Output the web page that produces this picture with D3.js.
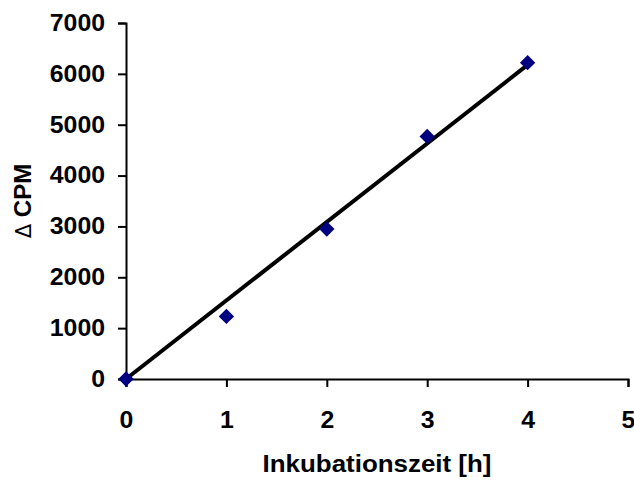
<!DOCTYPE html>
<html>
<head>
<meta charset="utf-8">
<script src="https://cdn.jsdelivr.net/npm/d3@7"></script>
<style>
  body { margin: 0; background: #fff; }
  text { font-family: "Liberation Sans", Arial, sans-serif; font-weight: bold; fill: #000; }
</style>
</head>
<body>
<div id="chart"></div>
<script>
// Data
var hours = [0, 1, 2, 3, 4];
var deltaCpm = [0, 1230, 2950, 4770, 6220];
var xTicks = [0, 1, 2, 3, 4, 5];
var yTicks = [0, 1000, 2000, 3000, 4000, 5000, 6000, 7000];

var basewidth = 634,
    baseheight = 480,
    margin = { top: 23, right: 6, bottom: 101, left: 126 },
    width = basewidth - margin.left - margin.right,
    height = baseheight - margin.top - margin.bottom,
    stretch = 1.08;   // the original text is a bit wider than Arial

var xScale = d3.scaleLinear().domain([0, 5]).range([0, width]),
    yScale = d3.scaleLinear().domain([0, 7000]).range([height, 0]);

var svg = d3.select("#chart").append("svg")
    .attr("width", basewidth)
    .attr("height", baseheight)
    .append("g")
    .attr("transform", "translate(" + margin.left + "," + margin.top + ")");

// y axis
var yaxis = svg.append("g")
    .call(d3.axisLeft(yScale).tickValues(yTicks).tickSize(8).tickPadding(13).tickFormat(d3.format("d")));

// x axis
var xaxis = svg.append("g")
    .attr("transform", "translate(0," + height + ")")
    .call(d3.axisBottom(xScale).tickValues(xTicks).tickSize(8).tickPadding(25).tickFormat(d3.format("d")));

[yaxis, xaxis].forEach(function (a) {
    a.select(".domain").attr("stroke", "#000").attr("stroke-width", 2);
    a.selectAll(".tick line").attr("stroke", "#000").attr("stroke-width", 2);
    a.selectAll("text").style("font-size", "23px").attr("font-family", null);
});

// stretch tick labels horizontally around their anchor
yaxis.selectAll(".tick text")
    .attr("x", 0)
    .attr("transform", "translate(-21,0) scale(" + stretch + ",1)");
xaxis.selectAll(".tick text")
    .attr("transform", "scale(" + stretch + ",1)");

// Linear trendline through origin (least squares)
var sxy = d3.sum(hours, function (x, i) { return x * deltaCpm[i]; }),
    sxx = d3.sum(hours, function (x) { return x * x; }),
    slope = sxy / sxx;
var xExt = d3.extent(hours);

svg.append("line")
    .attr("x1", xScale(xExt[0]))
    .attr("y1", yScale(slope * xExt[0]))
    .attr("x2", xScale(xExt[1]))
    .attr("y2", yScale(slope * xExt[1]))
    .attr("stroke", "#000")
    .attr("stroke-width", 4);

// data points (diamonds)
var diamond = d3.symbol().type(d3.symbolDiamond2).size(150);
svg.selectAll(".dot")
    .data(hours)
    .enter().append("path")
    .attr("class", "dot")
    .attr("d", diamond)
    .attr("transform", function (d, i) {
        return "translate(" + xScale(d) + "," + yScale(deltaCpm[i]) + ")";
    })
    .attr("fill", "#000080");

// axis labels
svg.append("text")
    .attr("transform", "translate(" + (width / 2) + "," + (height + 93) + ") scale(" + stretch + ",1)")
    .attr("text-anchor", "middle")
    .style("font-size", "24px")
    .text("Inkubationszeit [h]");

var ylab = svg.append("text")
    .attr("transform", "translate(-95," + (height / 2) + ") rotate(-90)")
    .attr("text-anchor", "middle")
    .style("font-size", "24px");
ylab.append("tspan")
    .style("font-family", "'DejaVu Sans'")
    .style("font-weight", "normal")
    .style("font-size", "21px")
    .text("\u0394");
ylab.append("tspan").text(" CPM");
</script>
</body>
</html>
